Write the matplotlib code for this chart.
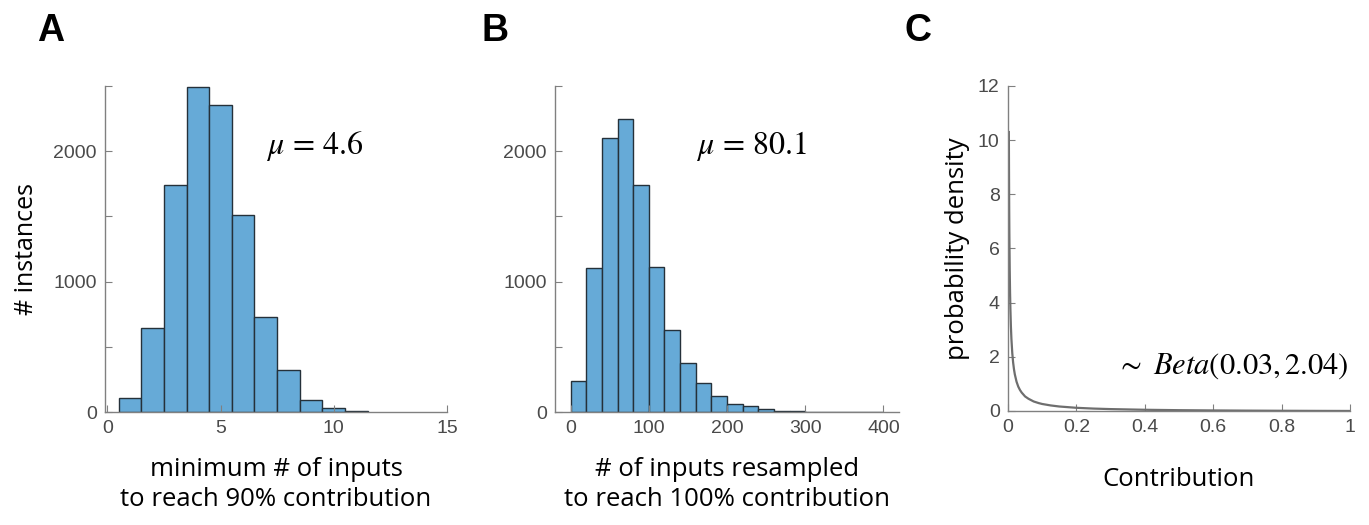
import matplotlib.pyplot as plt
import numpy as np

# panel A: minimum # of inputs to reach 90% contribution (bins of width 1)
a_edges = [0.5, 1.5, 2.5, 3.5, 4.5, 5.5, 6.5, 7.5, 8.5, 9.5, 10.5, 11.5]
a_counts = [105, 648, 1741, 2495, 2356, 1510, 730, 323, 92, 28, 6]

# panel B: # of inputs resampled to reach 100% contribution (bins of width 20)
b_edges = [0, 20, 40, 60, 80, 100, 120, 140, 160, 180, 200, 220, 240, 260,
           280, 300, 320, 340, 360, 380, 400]
b_counts = [241, 1102, 2100, 2244, 1741, 1113, 631, 379, 221, 126, 62, 49,
            20, 8, 5, 3, 3, 2, 0, 3]

# panel C: fitted density curve
c_x = [0.0025, 0.003, 0.0035, 0.004, 0.005, 0.006, 0.007, 0.0085, 0.01,
       0.0125, 0.015, 0.0175, 0.02, 0.025, 0.03, 0.035, 0.04, 0.05, 0.06,
       0.075, 0.09, 0.1, 0.125, 0.15, 0.2, 0.25, 0.3, 0.4, 0.5, 0.6, 0.7,
       0.8, 0.9, 1.0]
c_y = [10.3, 8.65, 7.43, 6.52, 5.25, 4.39, 3.78, 3.12, 2.66,
       2.14, 1.79, 1.54, 1.35, 1.08, 0.90, 0.775, 0.68, 0.536, 0.45,
       0.351, 0.29, 0.258, 0.204, 0.165, 0.117, 0.088, 0.069, 0.044,
       0.029, 0.0196, 0.0125, 0.0072, 0.0031, 0.0]

plt.rcParams['font.family'] = ['Liberation Sans', 'DejaVu Sans']
plt.rcParams['mathtext.fontset'] = 'stix'

bar_color = '#66aad7'
edge_color = '#25313a'
spine_color = '#808080'
tick_color = '#4a4a4a'
label_font = ['Open Sans', 'DejaVu Sans']

fig = plt.figure(figsize=(13.69, 5.25), dpi=100)
axA = fig.add_axes([0.0767, 0.2152, 0.2498, 0.6210])
axB = fig.add_axes([0.4054, 0.2152, 0.2513, 0.6210])
axC = fig.add_axes([0.7363, 0.2172, 0.2498, 0.6190])


def style(ax):
    for side in ['top', 'right']:
        ax.spines[side].set_visible(False)
    for side in ['left', 'bottom']:
        ax.spines[side].set_color(spine_color)
        ax.spines[side].set_linewidth(1.0)
    ax.tick_params(direction='in', length=5, width=0.8, color=spine_color,
                   labelcolor=tick_color, labelsize=14, pad=6)


def draw_hist(ax, edges, counts):
    widths = np.diff(edges)[:len(counts)]
    ax.bar(edges[:len(counts)], counts, width=widths, align='edge',
           color=bar_color, edgecolor=edge_color, linewidth=1.0)
    ax.set_ylim(0, 2500)
    ax.set_yticks([0, 500, 1000, 1500, 2000, 2500])
    ax.set_yticklabels(['0', '', '1000', '', '2000', ''])


# A
draw_hist(axA, a_edges, a_counts)
axA.set_xlim(-0.1, 15)
axA.set_xticks([0, 5, 10, 15])
style(axA)
axA.set_ylabel('# instances', fontsize=18, family=label_font, labelpad=10)
axA.set_xlabel('minimum # of inputs\nto reach 90% contribution', fontsize=18.5,
               family=label_font, labelpad=14, linespacing=1.3)
axA.text(7.0, 2040, r'$\mu\,=\,4.6$', fontsize=23, va='center', ha='left')

# B
draw_hist(axB, b_edges, b_counts)
axB.set_xlim(-20, 420)
axB.set_xticks([0, 100, 200, 300, 400])
style(axB)
axB.set_xlabel('# of inputs resampled\nto reach 100% contribution', fontsize=18.5,
               family=label_font, labelpad=14, linespacing=1.3)
axB.text(160, 2040, r'$\mu\,=\,80.1$', fontsize=23, va='center', ha='left')

# C
axC.plot(c_x, c_y, color='#6e6e6e', linewidth=1.6)
axC.set_xlim(0, 1)
axC.set_ylim(0, 12)
axC.set_xticks([0, 0.2, 0.4, 0.6, 0.8, 1])
axC.set_xticklabels(['0', '0.2', '0.4', '0.6', '0.8', '1'])
axC.set_yticks([0, 2, 4, 6, 8, 10, 12])
style(axC)
axC.set_ylabel('probability density', fontsize=18.5, family=label_font, labelpad=6)
axC.set_xlabel('Contribution', fontsize=18.5, family=label_font, labelpad=22)
axC.text(0.995, 1.65, r'$\sim\ \mathit{Beta}\left(0.03, 2.04\right)$',
         fontsize=22, va='center', ha='right')

for x, letter in [(0.027, 'A'), (0.352, 'B'), (0.661, 'C')]:
    fig.text(x, 0.975, letter, fontsize=27, fontweight='bold', va='top', ha='left')

fig.savefig('out.png', dpi=100)
